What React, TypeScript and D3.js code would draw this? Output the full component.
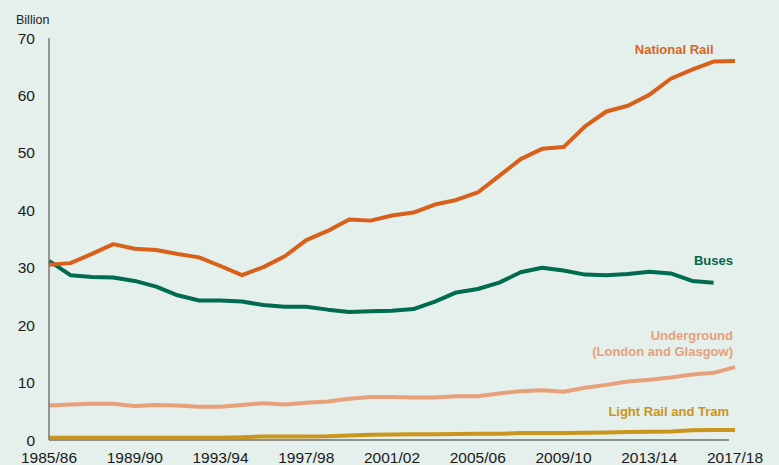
import React, { useEffect, useRef } from 'react';
import * as d3 from 'd3';

// Sizes and margins for the chart
const W = 779;
const H = 465;
const margin = { top: 38, right: 44, bottom: 25, left: 49 };

const years = [
  '1985/86', '1986/87', '1987/88', '1988/89', '1989/90', '1990/91', '1991/92', '1992/93',
  '1993/94', '1994/95', '1995/96', '1996/97', '1997/98', '1998/99', '1999/00', '2000/01',
  '2001/02', '2002/03', '2003/04', '2004/05', '2005/06', '2006/07', '2007/08', '2008/09',
  '2009/10', '2010/11', '2011/12', '2012/13', '2013/14', '2014/15', '2015/16', '2016/17',
  '2017/18',
];
const tickYears = ['1985/86', '1989/90', '1993/94', '1997/98', '2001/02', '2005/06', '2009/10', '2013/14', '2017/18'];
const yTicks = [0, 10, 20, 30, 40, 50, 60, 70];

const nationalRail = [
  30.5, 30.8, 32.4, 34.1, 33.3, 33.1, 32.4, 31.8, 30.3, 28.7, 30.1, 32.0, 34.8, 36.4, 38.4, 38.2,
  39.1, 39.6, 41.0, 41.8, 43.1, 46.0, 48.9, 50.7, 51.0, 54.6, 57.2, 58.2, 60.1, 62.9, 64.5, 65.9,
  66.0,
];
// no 2017/18 figure for buses
const buses = [
  31.2, 28.7, 28.4, 28.3, 27.7, 26.7, 25.2, 24.3, 24.3, 24.1, 23.5, 23.2, 23.2, 22.7, 22.3, 22.4,
  22.5, 22.8, 24.1, 25.7, 26.3, 27.4, 29.2, 30.0, 29.5, 28.8, 28.7, 28.9, 29.3, 29.0, 27.7, 27.4,
];
const underground = [
  6.0, 6.2, 6.3, 6.3, 5.9, 6.1, 6.0, 5.8, 5.8, 6.1, 6.4, 6.2, 6.5, 6.7, 7.2, 7.5,
  7.5, 7.4, 7.4, 7.6, 7.6, 8.1, 8.5, 8.65, 8.4, 9.1, 9.6, 10.2, 10.5, 10.9, 11.4, 11.7,
  12.7,
];
const lightRail = [
  0.4, 0.4, 0.4, 0.4, 0.4, 0.4, 0.4, 0.4, 0.4, 0.5, 0.6, 0.6, 0.6, 0.65, 0.8, 0.9,
  0.95, 1.0, 1.0, 1.05, 1.1, 1.1, 1.2, 1.2, 1.2, 1.25, 1.3, 1.4, 1.45, 1.5, 1.7, 1.75,
  1.75,
];

const series = [
  { name: ['National Rail'], values: nationalRail, color: '#d9601a', text: '#d9651f', labelX: '2016/17', labelY: 67.3, dx: 0 },
  { name: ['Buses'], values: buses, color: '#006b4f', text: '#00674c', labelX: '2017/18', labelY: 30.5, dx: -2 },
  { name: ['Underground', '(London and Glasgow)'], values: underground, color: '#e8a07a', text: '#e8a07a', labelX: '2017/18', labelY: 17.4, dx: -2 },
  { name: ['Light Rail and Tram'], values: lightRail, color: '#c9951a', text: '#c89620', labelX: '2017/18', labelY: 4.1, dx: -6 },
];

function App() {
  const chartElement = useRef<SVGSVGElement>(null);

  useEffect(() => {
    const x = d3.scalePoint<string>()
      .domain(years)
      .range([margin.left, W - margin.right]);

    const y = d3.scaleLinear()
      .domain([0, 70])
      .range([H - margin.bottom, margin.top]);

    const svg = d3.select(chartElement.current).html('');

    svg.append('rect')
      .attr('width', W)
      .attr('height', H)
      .attr('fill', '#e5efeb');

    const font = "'Liberation Sans', Arial, sans-serif";

    // y axis label
    svg.append('text')
      .attr('x', 16)
      .attr('y', 24)
      .attr('font-family', font)
      .attr('font-size', 12.5)
      .attr('fill', '#222')
      .text('Billion');

    // y tick labels
    svg.append('g')
      .selectAll('text')
      .data(yTicks)
      .join('text')
      .attr('x', 35)
      .attr('y', (d) => y(d))
      .attr('dy', '0.36em')
      .attr('text-anchor', 'end')
      .attr('font-family', font)
      .attr('font-size', 15.5)
      .attr('fill', '#1a1a1a')
      .text((d) => d);

    // x tick labels
    svg.append('g')
      .selectAll('text')
      .data(tickYears)
      .join('text')
      .attr('x', (d) => x(d)!)
      .attr('y', y(0) + 23)
      .attr('text-anchor', 'middle')
      .attr('font-family', font)
      .attr('font-size', 15.5)
      .attr('fill', '#1a1a1a')
      .text((d) => d);

    // x axis
    svg.append('line')
      .attr('x1', x.range()[0])
      .attr('x2', x.range()[1] - 6)
      .attr('y1', y(0))
      .attr('y2', y(0))
      .attr('stroke', '#333')
      .attr('stroke-width', 1.2);

    // lines
    const line = d3.line<number>()
      .x((_, i) => x(years[i])!)
      .y((d) => y(d));

    series.slice().reverse().forEach((s) => {
      svg.append('path')
        .datum(s.values)
        .attr('fill', 'none')
        .attr('stroke', s.color)
        .attr('stroke-width', 4)
        .attr('stroke-linejoin', 'round')
        .attr('d', line);
    });

    // y axis
    svg.append('line')
      .attr('x1', margin.left)
      .attr('x2', margin.left)
      .attr('y1', y(70))
      .attr('y2', y(0))
      .attr('stroke', '#777')
      .attr('stroke-width', 1.5);

    // series labels
    series.forEach((s) => {
      const lx = x(s.labelX)! + s.dx;
      const t = svg.append('text')
        .attr('x', lx)
        .attr('y', y(s.labelY))
        .attr('text-anchor', 'end')
        .attr('font-family', font)
        .attr('font-size', 13)
        .attr('font-weight', 'bold')
        .attr('fill', s.text);
      s.name.forEach((n, i) => {
        t.append('tspan')
          .attr('x', lx)
          .attr('dy', i === 0 ? 0 : 15.5)
          .text(n);
      });
    });
  }, []);

  return (
    <svg
      ref={chartElement}
      width={W}
      height={H}
      style={{ position: 'absolute', left: 0, top: 0 }}
    ></svg>
  );
}

export default App;
